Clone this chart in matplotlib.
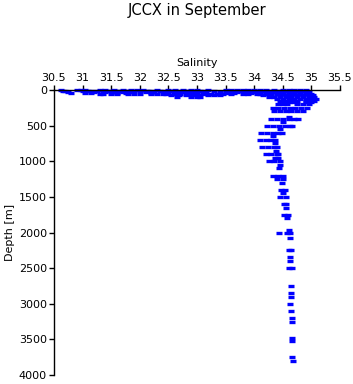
import matplotlib
matplotlib.use("Agg")
import matplotlib.pyplot as plt

plt.rcParams['font.family'] = ['DejaVu Sans']

# standard depth levels [m] and the salinity observations at each level
depth_levels = [0, 10, 20, 30, 40, 50, 60, 75, 100, 125, 150, 175, 200, 250, 300, 375,
                400, 450, 500, 550, 600, 645, 700, 750, 800, 855, 900, 960,
                1000, 1057, 1100, 1200, 1250, 1310, 1400, 1440, 1500, 1600,
                1660, 1750, 1800, 1965, 2000, 2080, 2250, 2350, 2400, 2500,
                2750, 2850, 2900, 3000, 3100, 3200, 3250, 3480, 3520, 3750, 3800]

salinity_obs = [
    [30.62, 30.9, 30.98, 31.05, 31.3, 31.4, 31.55, 31.7, 31.85, 31.95, 32.05, 32.3, 32.5, 32.62,
     32.75, 32.9, 33.0, 33.2, 33.5, 33.6, 33.7, 33.8, 33.9, 34.0, 34.1, 34.2, 34.35, 34.5, 34.6,
     34.7, 34.8, 34.9],
    [30.65, 31.1, 31.25, 31.45, 31.6, 31.75, 31.9, 32.1, 32.2, 32.4, 32.55, 32.7, 32.85, 32.95,
     33.1, 33.55, 33.65, 33.75, 33.85, 33.95, 34.05, 34.15, 34.3, 34.45, 34.55, 34.65, 34.75, 34.85],
    [30.7, 31.0, 31.15, 31.35, 31.5, 31.65, 31.8, 32.0, 32.15, 32.35, 32.6, 32.8, 33.05, 33.3,
     33.5, 33.62, 33.72, 33.82, 33.92, 34.02, 34.12, 34.25, 34.4, 34.5, 34.6, 34.7, 34.8, 34.9],
    [30.75, 31.2, 31.4, 31.55, 31.7, 31.85, 32.1, 32.25, 32.45, 32.65, 32.78, 32.9, 33.0, 33.15,
     33.4, 33.7, 33.85, 34.0, 34.2, 34.35, 34.5, 34.65, 34.8, 34.95],
    [30.8, 31.05, 31.15, 31.6, 31.75, 32.2, 32.5, 33.5, 33.65, 33.95, 34.45, 34.7],
    [31.3, 31.6, 31.9, 32.2, 32.4, 32.6, 32.7, 32.85, 32.95, 33.1, 33.25, 33.35, 33.8, 34.05,
     34.2, 34.3, 34.4, 34.5, 34.6, 34.7, 34.8, 34.9, 35.0],
    [31.35, 31.5, 31.8, 32.0, 32.3, 32.45, 33.2, 33.45, 33.6, 33.9, 34.1],
    [32.55, 32.68, 32.8, 32.92, 33.02, 33.2, 33.3, 33.4, 34.15, 34.3, 34.45, 34.55, 34.65, 34.75,
     34.85, 34.95, 35.02],
    [32.65, 32.9, 33.0, 33.05, 34.25, 34.35, 34.45, 34.55, 34.65, 34.75, 34.85, 34.95, 35.05],
    [34.4, 34.5, 34.6, 34.7, 34.8, 34.9, 35.0, 35.08],
    [34.45, 34.55, 34.65, 34.75, 34.9, 35.05],
    [34.5, 34.6, 34.7, 34.9, 35.0],
    [34.42, 34.5, 34.58, 34.75, 34.85, 34.95],
    [34.32, 34.42, 34.52, 34.62, 34.72, 34.82, 34.92],
    [34.35, 34.45, 34.55, 34.65, 34.75, 34.85],
    [34.6],
    [34.3, 34.4, 34.5, 34.6, 34.7, 34.76],
    [34.5],
    [34.23, 34.33, 34.43, 34.53, 34.63, 34.66],
    [34.45],
    [34.12, 34.22, 34.32, 34.42, 34.48],
    [34.33],
    [34.1, 34.2, 34.3, 34.37],
    [34.37],
    [34.14, 34.24, 34.34, 34.4],
    [34.38],
    [34.2, 34.3, 34.4, 34.42],
    [34.36, 34.42],
    [34.25, 34.35, 34.45],
    [34.45],
    [34.43],
    [34.33, 34.42, 34.5],
    [34.4, 34.5],
    [34.49],
    [34.46, 34.53],
    [34.5],
    [34.45, 34.56],
    [34.52, 34.56],
    [34.56],
    [34.52, 34.59],
    [34.58],
    [34.6],
    [34.44, 34.57, 34.62],
    [34.62],
    [34.6, 34.64],
    [34.62],
    [34.62],
    [34.6, 34.66],
    [34.65],
    [34.65],
    [34.65],
    [34.63],
    [34.65],
    [34.66],
    [34.66],
    [34.66],
    [34.66],
    [34.66],
    [34.67],
]

xticks = [30.5, 31, 31.5, 32, 32.5, 33, 33.5, 34, 34.5, 35, 35.5]
xticklabels = ['30.5', '31', '31.5', '32', '32.5', '33', '33.5', '34', '34.5', '35', '35.5']
yticks = [0, 500, 1000, 1500, 2000, 2500, 3000, 3500, 4000]

sal = []
dep = []
for d, row in zip(depth_levels, salinity_obs):
  for s in row:
    sal.append(s)
    dep.append(d)

fig = plt.figure(figsize=(3.53, 3.84), dpi=100)
ax = fig.add_axes([54/353, 1 - 375/384, 286/353, 285/384])

ax.plot(sal, dep, linestyle='none', marker='_', markersize=4.2, mew=2.4, color='#0000ff',
        clip_on=False)

ax.set_xlim(30.5, 35.5)
ax.set_ylim(4000, 0)
ax.set_xticks(xticks)
ax.set_xticklabels(xticklabels)
ax.set_yticks(yticks)
ax.xaxis.tick_top()
ax.xaxis.set_label_position('top')
ax.tick_params(axis='both', direction='out', length=3.6, width=1, labelsize=8, pad=1.5, colors='black')
for side in ['right', 'bottom']:
  ax.spines[side].set_visible(False)
for side in ['left', 'top']:
  ax.spines[side].set_linewidth(1)
ax.set_xlabel('Salinity', fontsize=8, labelpad=5)
ax.set_ylabel('Depth [m]', fontsize=8, labelpad=3)

fig.text(197/353, 1 - 10/384, 'JCCX in September', ha='center', va='center', fontsize=10.5)

fig.savefig('out.png', dpi=100)
plt.close(fig)
